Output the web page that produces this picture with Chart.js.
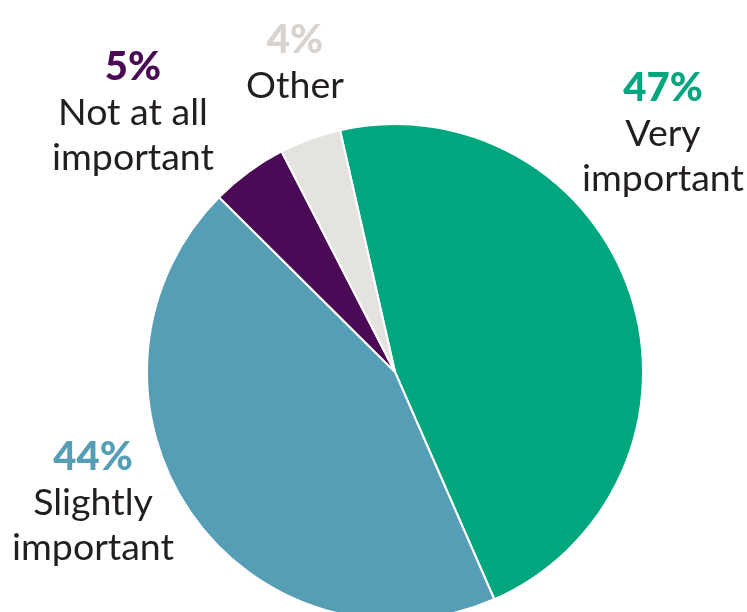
<!DOCTYPE html>
<html>
<head>
<meta charset="utf-8">
<script src="https://cdn.jsdelivr.net/npm/chart.js@4/dist/chart.umd.min.js"></script>
<style>
  html, body { margin: 0; padding: 0; background: #ffffff; overflow: hidden; width: 747px; height: 612px; }
  canvas { display: block; }
</style>
</head>
<body>
<canvas id="c" width="747" height="640"></canvas>
<script>
const categories = ["Very important", "Slightly important", "Not at all important", "Other"];
const values = [47, 44, 5, 4];
const percentLabels = ["47%", "44%", "5%", "4%"];
const nameLines = [["Very", "important"], ["Slightly", "important"], ["Not at all", "important"], ["Other"]];
const sliceColors = ["#00A67E", "#559EB6", "#4A0A55", "#E4E3DF"];
const percentColors = ["#00A67E", "#559EB6", "#4A0A55", "#D8D3CE"];
// label anchor (center x, y of percent line)
const labelAnchors = [[663, 88], [93, 457], [133, 67], [295, 40]];

const labelPlugin = {
  id: 'sliceLabels',
  afterDraw(chart) {
    const ctx = chart.ctx;
    ctx.save();
    ctx.textAlign = 'center';
    ctx.textBaseline = 'middle';
    const lineGap = 45;
    categories.forEach((cat, i) => {
      const [x, y] = labelAnchors[i];
      ctx.font = '900 40px Lato';
      ctx.fillStyle = percentColors[i];
      ctx.fillText(percentLabels[i], x, y);
      ctx.font = '37.5px Lato';
      ctx.fillStyle = '#231F20';
      nameLines[i].forEach((ln, j) => {
        ctx.fillText(ln, x, y + lineGap * (j + 1) + 1);
      });
    });
    ctx.restore();
  }
};

new Chart(document.getElementById('c'), {
  type: 'pie',
  data: {
    labels: categories,
    datasets: [{
      data: values,
      backgroundColor: sliceColors,
      borderColor: '#ffffff',
      borderWidth: 2,
      clip: false
    }]
  },
  options: {
    responsive: false,
    animation: false,
    rotation: -12.8,
    radius: 248,
    layout: { padding: { top: 124, left: 147, right: 104, bottom: 20 } },
    plugins: {
      legend: { display: false },
      tooltip: { enabled: false },
      title: { display: false }
    }
  },
  plugins: [labelPlugin]
});
</script>
</body>
</html>
